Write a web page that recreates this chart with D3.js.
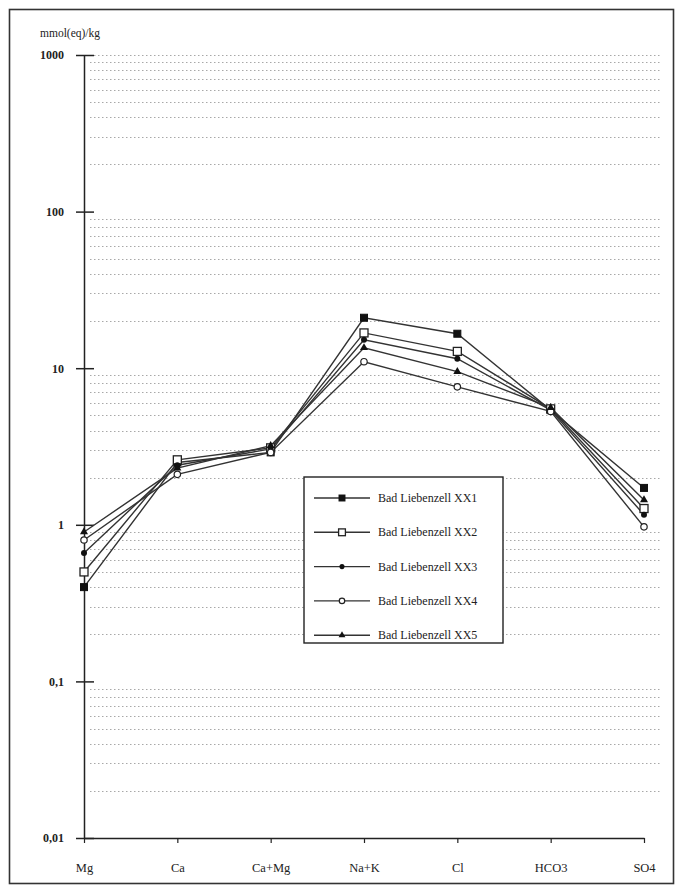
<html>
<head>
    <script src="https://d3js.org/d3.v7.min.js"></script>
    <style>
        body { margin: 0; background: #fff; }
        svg text { font-family: "Liberation Serif", "DejaVu Serif", serif; fill: #222; }
    </style>
</head>
<body>
<div id="chart"></div>
<script>
    var categories = ["Mg", "Ca", "Ca+Mg", "Na+K", "Cl", "HCO3", "SO4"];
    var seriesNames = ["Bad Liebenzell XX1", "Bad Liebenzell XX2", "Bad Liebenzell XX3", "Bad Liebenzell XX4", "Bad Liebenzell XX5"];
    var xx1 = [0.40, 2.5, 2.9, 21.0, 16.6, 5.4, 1.72];
    var xx2 = [0.50, 2.6, 3.1, 16.8, 12.8, 5.5, 1.27];
    var xx3 = [0.66, 2.4, 3.05, 15.2, 11.5, 5.4, 1.16];
    var xx4 = [0.80, 2.1, 2.9, 11.0, 7.6, 5.3, 0.97];
    var xx5 = [0.90, 2.3, 3.2, 13.5, 9.5, 5.6, 1.44];
    var seriesValues = [xx1, xx2, xx3, xx4, xx5];
    var yTicks = [0.01, 0.1, 1, 10, 100, 1000];
    var yTickLabels = ["0,01", "0,1", "1", "10", "100", "1000"];
    var markers = ["fsquare", "osquare", "fdot", "ocircle", "triangle"];

    var width = 682, height = 895;
    var plotLeft = 84, plotRight = 644, plotTop = 55, plotBottom = 838;

    var svg = d3.select("#chart").append("svg")
        .attr("width", width)
        .attr("height", height);

    // outer frame
    svg.append("rect")
        .attr("x", 9.5).attr("y", 9.5)
        .attr("width", 664).attr("height", 874)
        .attr("fill", "none").attr("stroke", "#333").attr("stroke-width", 1.6);

    var x = d3.scalePoint().domain(categories).range([plotLeft, plotRight]);
    var y = d3.scaleLog().domain([0.01, 1000]).range([plotBottom, plotTop]);

    // dotted grid at minor ticks
    var gridVals = [];
    yTicks.forEach(function(t, i) {
        if (i < yTicks.length - 1) {
            for (var k = 2; k <= 9; k++) gridVals.push(t * k);
        }
    });
    gridVals.push(1000);
    svg.append("g").selectAll("line")
        .data(gridVals)
        .enter().append("line")
        .attr("x1", plotLeft + 6).attr("x2", 660)
        .attr("y1", function(d) { return Math.round(y(d)) + 0.5; })
        .attr("y2", function(d) { return Math.round(y(d)) + 0.5; })
        .attr("stroke", "#a8a8a8")
        .attr("stroke-width", 1)
        .attr("stroke-dasharray", "1.5,2.5");

    // y axis
    var yAxis = d3.axisLeft(y)
        .tickValues(yTicks)
        .tickFormat(function(d, i) { return yTickLabels[i]; })
        .tickSize(8)
        .tickSizeOuter(0)
        .tickPadding(12);
    var gy = svg.append("g")
        .attr("transform", "translate(" + plotLeft + ",0)")
        .call(yAxis);
    gy.select(".domain").attr("stroke", "#222").attr("stroke-width", 1.5);
    gy.selectAll(".tick line").attr("stroke", "#222").attr("stroke-width", 1.5).attr("x2", 10).attr("x1", -8);
    gy.selectAll(".tick text")
        .style("font-family", "Liberation Serif, serif")
        .style("font-size", "12px")
        .style("font-weight", "bold")
        .attr("fill", "#222");

    // x axis
    var xAxis = d3.axisBottom(x).tickSize(5).tickSizeOuter(0).tickPadding(20);
    var gx = svg.append("g")
        .attr("transform", "translate(0," + plotBottom + ")")
        .call(xAxis);
    gx.select(".domain").attr("stroke", "#222").attr("stroke-width", 1.5);
    gx.selectAll(".tick line").attr("stroke", "#222").attr("stroke-width", 1.2);
    gx.selectAll(".tick text")
        .style("font-family", "Liberation Serif, serif")
        .style("font-size", "12.5px")
        .attr("fill", "#222");

    // unit label
    svg.append("text")
        .attr("x", 40).attr("y", 37)
        .style("font-size", "11.5px")
        .text("mmol(eq)/kg");

    function drawMarker(g, type, cx, cy, k) {
        k = k || 1;
        if (type === "fsquare") {
            g.append("rect").attr("x", cx - 3.5 * k).attr("y", cy - 3.5 * k).attr("width", 7 * k).attr("height", 7 * k)
                .attr("fill", "#111").attr("stroke", "#111");
        } else if (type === "osquare") {
            g.append("rect").attr("x", cx - 4 * k).attr("y", cy - 4 * k).attr("width", 8 * k).attr("height", 8 * k)
                .attr("fill", "#fff").attr("stroke", "#222").attr("stroke-width", 1.3);
        } else if (type === "fdot") {
            g.append("circle").attr("cx", cx).attr("cy", cy).attr("r", 3 * k)
                .attr("fill", "#111");
        } else if (type === "ocircle") {
            g.append("circle").attr("cx", cx).attr("cy", cy).attr("r", 3.2 * k)
                .attr("fill", "#fff").attr("stroke", "#222").attr("stroke-width", 1.2);
        } else {
            g.append("path")
                .attr("d", d3.symbol().type(d3.symbolTriangle).size(28 * k * k)())
                .attr("transform", "translate(" + cx + "," + cy + ")")
                .attr("fill", "#111");
        }
    }

    var line = d3.line()
        .x(function(d, i) { return x(categories[i]); })
        .y(function(d) { return y(d); });

    var series = svg.append("g");
    seriesValues.forEach(function(vals, s) {
        series.append("path")
            .datum(vals)
            .attr("d", line)
            .attr("fill", "none")
            .attr("stroke", "#333")
            .attr("stroke-width", 1.4);
    });
    seriesValues.forEach(function(vals, s) {
        var g = series.append("g");
        vals.forEach(function(v, i) {
            drawMarker(g, markers[s], x(categories[i]), y(v));
        });
    });

    // legend
    var lg = svg.append("g").attr("transform", "translate(304,477)");
    lg.append("rect")
        .attr("width", 199).attr("height", 166)
        .attr("fill", "#fff").attr("stroke", "#222").attr("stroke-width", 1.4);
    seriesNames.forEach(function(name, i) {
        var yy = 21 + i * 34.3;
        lg.append("line")
            .attr("x1", 10).attr("x2", 66)
            .attr("y1", yy).attr("y2", yy)
            .attr("stroke", "#333").attr("stroke-width", 1.4);
        drawMarker(lg, markers[i], 38, yy, 0.85);
        lg.append("text")
            .attr("x", 74).attr("y", yy + 4)
            .style("font-size", "12px")
            .text(name);
    });
</script>
</body>
</html>
